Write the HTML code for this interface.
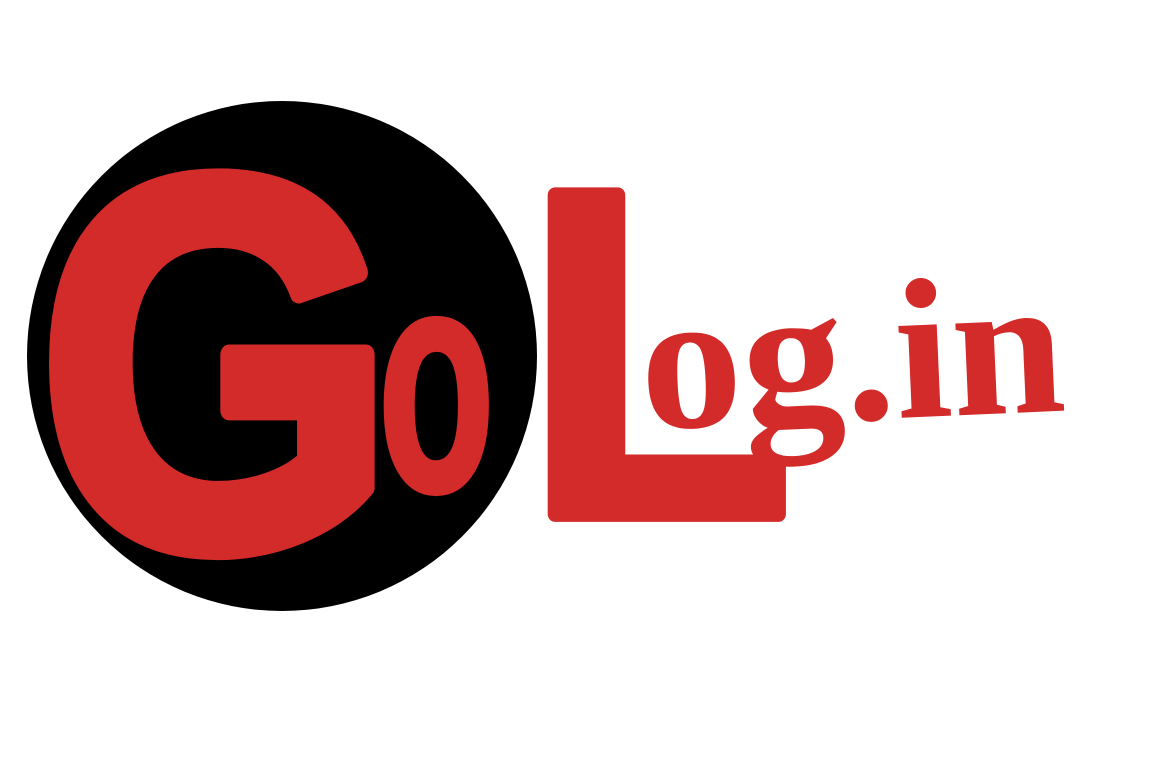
<!DOCTYPE html>
<html>
<head>
<meta charset="utf-8">
<style>
html,body{margin:0;padding:0;background:#fff;}
svg{display:block;}
</style>
</head>
<body>
<svg width="1173" height="784" viewBox="0 0 1173 784">
  <circle cx="282" cy="356" r="255" fill="#000"/>
  <g transform="translate(39,545) scale(0.87,1)">
    <text x="0" y="0" font-family="Liberation Sans, sans-serif" font-weight="bold" font-size="525" fill="#d32a2a" stroke="#d32a2a" stroke-width="20" stroke-linejoin="round">G</text>
  </g>
  <g transform="translate(378,490) scale(0.6,1)">
    <text x="0" y="0" font-family="Liberation Sans, sans-serif" font-weight="bold" font-size="318" fill="#d32a2a" stroke="#d32a2a" stroke-width="6" stroke-linejoin="round">o</text>
  </g>
  <g transform="translate(526,514) scale(0.93,0.99)">
    <text x="0" y="0" font-family="Liberation Sans, sans-serif" font-weight="bold" font-size="468" fill="#d32a2a" stroke="#d32a2a" stroke-width="16" stroke-linejoin="round">L</text>
  </g>
  <g transform="rotate(-2.5 850 410)">
    <text x="642" y="420" font-family="Liberation Serif, serif" font-weight="bold" font-size="200" fill="#d32a2a" textLength="425" lengthAdjust="spacingAndGlyphs">og.in</text>
  </g>
</svg>
</body>
</html>
